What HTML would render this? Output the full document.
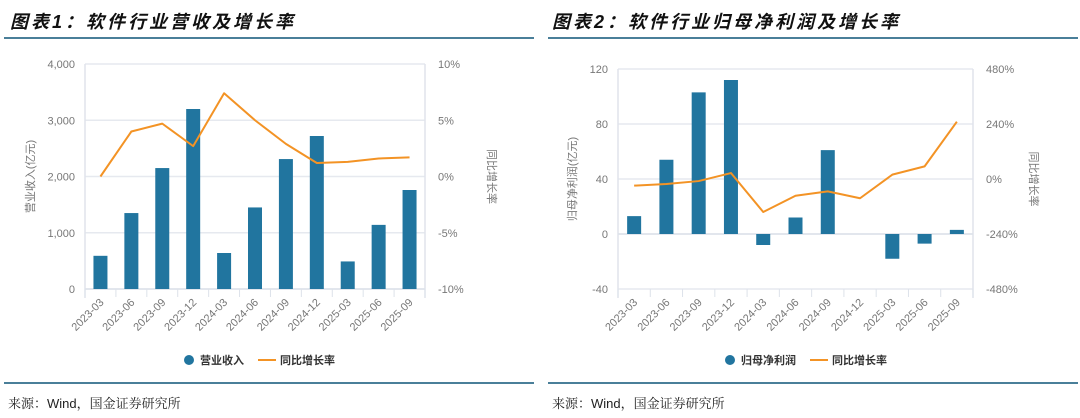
<!DOCTYPE html>
<html><head><meta charset="utf-8"><style>
body{margin:0;width:1080px;height:418px;background:#fff;overflow:hidden;position:relative;font-family:"Liberation Sans","Noto Sans CJK SC",sans-serif}
.title{position:absolute;top:8px;font-size:18px;font-weight:bold;font-style:italic;color:#111;letter-spacing:3px;font-family:"Liberation Sans","Noto Sans CJK SC",sans-serif}
.rule{position:absolute;height:2px;background:#4a7f99}
.src{position:absolute;top:393px;font-size:13px;color:#222;font-family:"Liberation Sans","Noto Serif CJK SC",serif}
svg{position:absolute;left:0;top:0}
</style></head><body>
<div class="title" style="left:10px">图表1：软件行业营收及增长率</div>
<div class="title" style="left:552px">图表2：软件行业归母净利润及增长率</div>
<div class="rule" style="left:4px;width:530px;top:37px"></div>
<div class="rule" style="left:548px;width:530px;top:37px"></div>
<div class="rule" style="left:4px;width:530px;top:382px"></div>
<div class="rule" style="left:548px;width:530px;top:382px"></div>
<div class="src" style="left:8px">来源：Wind，国金证券研究所</div>
<div class="src" style="left:552px">来源：Wind，国金证券研究所</div>
<svg id="svg" width="1080" height="418"></svg>
<script>
const categories = ["2023-03","2023-06","2023-09","2023-12","2024-03","2024-06","2024-09","2024-12","2025-03","2025-06","2025-09"];
const revenue = [590,1350,2150,3200,640,1450,2310,2720,490,1140,1760];
const revenueGrowth = [0,4.0,4.7,2.7,7.4,5.0,2.9,1.2,1.3,1.6,1.7];
const profit = [13,54,103,112,-8,12,61,0,-18,-7,3];
const profitGrowth = [-29,-22,-9,26,-144,-73,-54,-84,19,55,250];
const leftTicks1 = ["0","1,000","2,000","3,000","4,000"];
const rightTicks1 = ["-10%","-5%","0%","5%","10%"];
const leftTicks2 = ["-40","0","40","80","120"];
const rightTicks2 = ["-480%","-240%","0%","240%","480%"];

const NS="http://www.w3.org/2000/svg";
const svg=document.getElementById('svg');
function mk(tag,attrs,text){const e=document.createElementNS(NS,tag);for(const k in attrs)e.setAttribute(k,attrs[k]);if(text!==undefined)e.textContent=text;svg.appendChild(e);return e;}

function drawChart(o){
  const {x0,x1,y0,y1,lmin,lmax,rmin,rmax,bars,line,lt,rt,p}=o;
  const ly=v=>y1-(v-lmin)/(lmax-lmin)*(y1-y0);
  const ry=v=>y1-(v-rmin)/(rmax-rmin)*(y1-y0);
  const bw=(x1-x0)/categories.length;
  const cx=i=>x0+bw*(i+0.5);
  for(let i=0;i<lt.length;i++){
    const y=y1-i*(y1-y0)/(lt.length-1);
    let g=mk('line',{x1:x0,x2:x1,y1:y,y2:y,stroke:'#e6e9ef','stroke-width':1.5});
    
    
    let t=mk('text',{x:x0-10,y:y+4,'text-anchor':'end','font-size':11,fill:'#777'},lt[i]);
    
    
    let t2=mk('text',{x:x1+13,y:y+4,'text-anchor':'start','font-size':11,fill:'#777'},rt[i]);
    
    
  }
  let ax=mk('line',{x1:x0,x2:x0,y1:y0,y2:y1+9,stroke:'#e0e4ec','stroke-width':1.5});
  
  let ax2=mk('line',{x1:x1,x2:x1,y1:y0,y2:y1+9,stroke:'#e0e4ec','stroke-width':1.5});
  
  const xb=o.xAxisY;
  let xa=mk('line',{x1:x0,x2:x1,y1:xb,y2:xb,stroke:'#dde2ea','stroke-width':1.5});
  
  for(let i=0;i<=categories.length;i++){
    const tx=x0+bw*i;
    let tk=mk('line',{x1:tx,x2:tx,y1:y1,y2:y1+8,stroke:'#dde2ea','stroke-width':1});
    
  }
  categories.forEach((c,i)=>{
    const tx=cx(i)+4,ty=y1+14;
    let t=mk('text',{x:tx,y:ty,'text-anchor':'end','font-size':11,fill:'#777',transform:`rotate(-45 ${tx} ${ty})`},c);
    
  });
  bars.forEach((v,i)=>{
    if(v===0)return;
    const ya=ly(v),yz=ly(0);
    let r=mk('rect',{x:cx(i)-7,y:Math.min(ya,yz),width:14,height:Math.abs(yz-ya),fill:'#21759f'});
    
  });
  const pts=line.map((v,i)=>cx(i)+','+ry(v)).join(' ');
  let pl=mk('polyline',{points:pts,fill:'none',stroke:'#f39325','stroke-width':2,'stroke-linejoin':'round'});
  
  const mid=(y0+y1)/2;
  let lt1=mk('text',{x:o.ltx,y:mid,'text-anchor':'middle','font-size':11,fill:'#777',transform:`rotate(-90 ${o.ltx} ${mid})`},o.leftTitle);
  
  let rt1=mk('text',{x:o.rtx,y:mid,'text-anchor':'middle','font-size':11,fill:'#777',transform:`rotate(90 ${o.rtx} ${mid})`},'同比增长率');
  
  let lc=mk('circle',{cx:o.lgx,cy:360,r:5,fill:'#21759f'});
  
  let ltx=mk('text',{x:o.lgx+11,y:364,'font-size':11,fill:'#333','font-weight':'bold'},o.barName);
  
  let ll=mk('line',{x1:o.lg2,x2:o.lg2+18,y1:360,y2:360,stroke:'#f39325','stroke-width':2});
  
  let ltx2=mk('text',{x:o.lg2+22,y:364,'font-size':11,fill:'#333','font-weight':'bold'},'同比增长率');
  
}
drawChart({p:'chart1',x0:85,x1:425,y0:64,y1:289,xAxisY:289,lmin:0,lmax:4000,rmin:-10,rmax:10,bars:revenue,line:revenueGrowth,lt:leftTicks1,rt:rightTicks1,ltx:34,rtx:488,leftTitle:'营业收入(亿元)',barName:'营业收入',lgx:189,lg2:258});
drawChart({p:'chart2',x0:618,x1:973,y0:69,y1:289,xAxisY:234,lmin:-40,lmax:120,rmin:-480,rmax:480,bars:profit,line:profitGrowth,lt:leftTicks2,rt:rightTicks2,ltx:576,rtx:1030,leftTitle:'归母净利润(亿元)',barName:'归母净利润',lgx:730,lg2:810});
</script>
</body></html>
